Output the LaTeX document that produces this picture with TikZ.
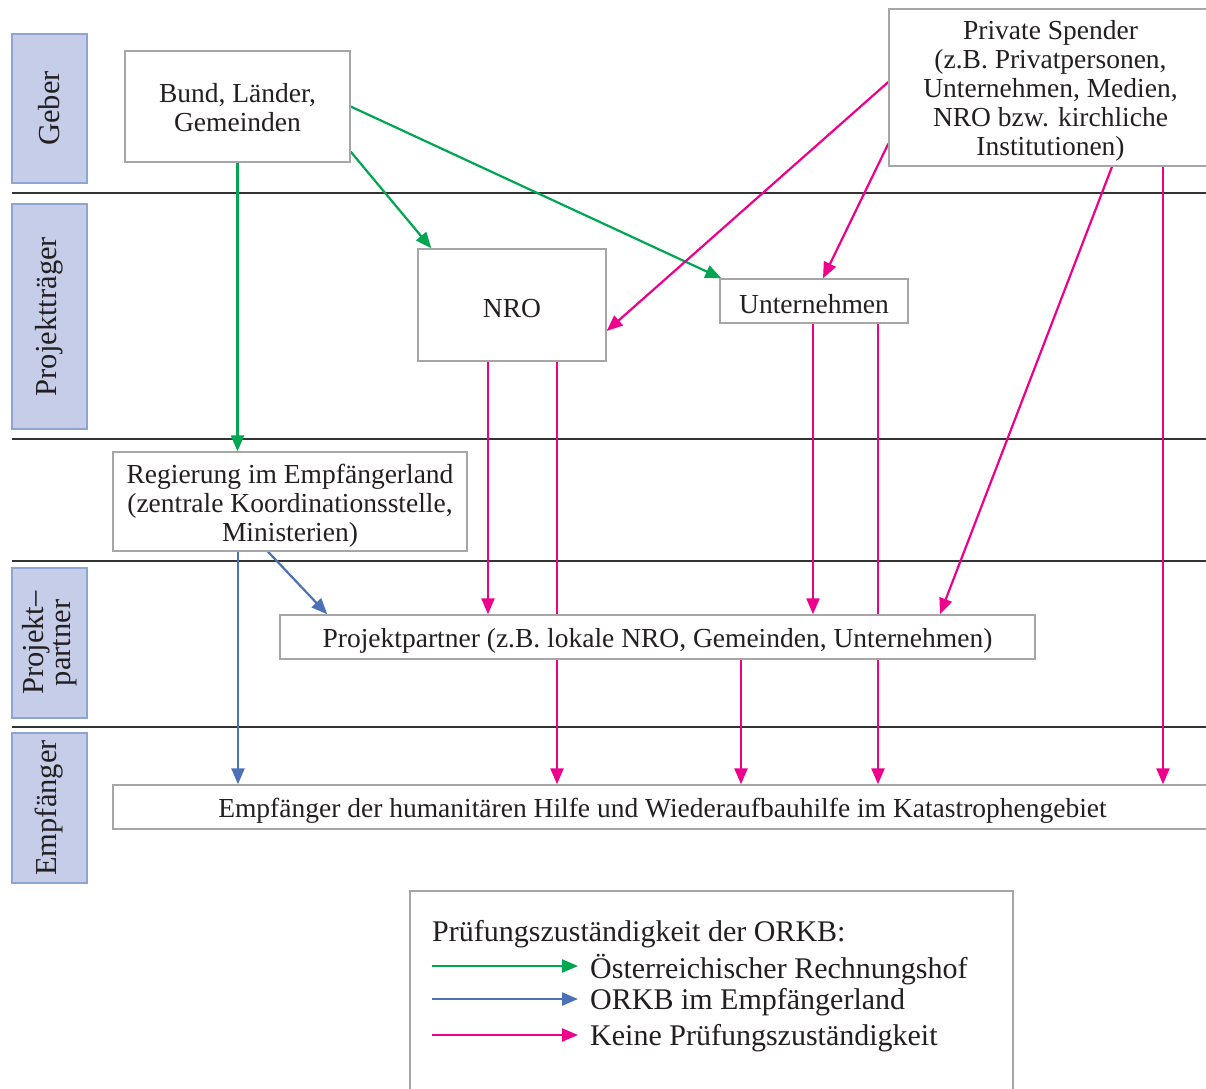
\documentclass[tikz,border=0pt]{standalone}
\usepackage{fontspec}
\setmainfont{Liberation Serif}
\usetikzlibrary{arrows.meta,backgrounds}
\definecolor{cgreen}{HTML}{00A651}
\definecolor{cblue}{HTML}{4C71B6}
\definecolor{cpink}{HTML}{EC008C}
\definecolor{lav}{HTML}{C5CDE8}
\definecolor{lavb}{HTML}{8EA4D2}
\definecolor{boxb}{HTML}{A6A6A6}
\definecolor{txt}{HTML}{231F20}
\definecolor{sep}{HTML}{333333}
\newcommand{\toprule}[1]{\rule{0pt}{#1}}
\tikzset{
  box/.style={draw=boxb, line width=1.4pt, fill=white, inner sep=0pt, align=center, text=txt,
    font=\fontsize{27.5}{29}\selectfont},
  rowlabel/.style={draw=lavb, fill=lav, line width=1.4pt, inner sep=0pt, align=center, text=txt,
    minimum width=75pt},
  rowtext/.style={rotate=90, text=txt, align=center, inner sep=0pt, font=\fontsize{30.5}{27}\selectfont},
  arr/.style={line width=2.2pt, -{Triangle[length=16pt,width=13pt]}},
  ga/.style={arr, draw=cgreen, fill=cgreen},
  ba/.style={arr, draw=cblue, fill=cblue},
  pa/.style={arr, draw=cpink, fill=cpink},
  sepline/.style={draw=sep, line width=1.4pt},
  legtxt/.style={anchor=west, inner sep=0pt, text=txt, font=\fontsize{30}{30}\selectfont}
}
\begin{document}
\begin{tikzpicture}[x=1pt,y=-1pt]
\clip (0,0) rectangle (1206,1088);
% row labels
\node[rowlabel, minimum height=149pt] (lgeb) at (49.5,108.5) {};
\node[rowtext] (tgeb) at (lgeb.center) {Geber};
\node[rowlabel, minimum height=225pt] (lpt) at (49.5,316.5) {};
\node[rowtext] (tpt) at (lpt.center) {Projektträger};
\node[rowlabel, minimum height=150pt] (lpp) at (49.5,643) {};
\node[rowtext] (tpp) at (lpp.center) {Projekt–\\partner};
\node[rowlabel, minimum height=150pt] (lemp) at (49.5,808) {};
\node[rowtext] (temp) at (lemp.center) {Empfänger};
% boxes
\node[box, minimum width=225pt, minimum height=111pt] (bund) at (237.5,106.5) {\toprule{21pt}Bund, Länder,\\Gemeinden};
\node[box, minimum width=323pt, minimum height=157pt] (priv) at (1050.5,87.5) {\toprule{26pt}Private Spender\\(z.B. Privatpersonen,\\Unternehmen, Medien,\\NRO bzw. kirchliche\\Institutionen)};
\node[box, minimum width=188pt, minimum height=112pt] (nro) at (512,305) {\toprule{25pt}NRO};
\node[box, minimum width=188pt, minimum height=44pt] (unt) at (814,301) {\toprule{25pt}Unternehmen};
\node[box, minimum width=354pt, minimum height=99pt] (reg) at (290,501.5) {\toprule{28pt}Regierung im Empfängerland\\(zentrale Koordinationsstelle,\\Ministerien)};
\node[box, minimum width=755pt, minimum height=44pt] (pp) at (657.5,637) {\toprule{27pt}Projektpartner (z.B. lokale NRO, Gemeinden, Unternehmen)};
\node[box, minimum width=1099pt, minimum height=44pt] (emp) at (662.5,807) {\toprule{27pt}Empfänger der humanitären Hilfe und Wiederaufbauhilfe im Katastrophengebiet};
% legend
\node[box, minimum width=603pt, minimum height=204pt] (leg) at (711.5,993) {};
\node[legtxt] (legt) at (432,934) {Prüfungszuständigkeit der ORKB:};
\coordinate (g1) at (432,966); \coordinate (g2) at (578,966);
\coordinate (b1) at (432,999); \coordinate (b2) at (578,999);
\coordinate (p1) at (432,1035); \coordinate (p2) at (578,1035);
\node[legtxt] (lg) at (590,970) {Österreichischer Rechnungshof};
\node[legtxt] (lb) at (590,1002) {ORKB im Empfängerland};
\node[legtxt] (lp) at (590,1038) {Keine Prüfungszuständigkeit};
\draw[ga] (g1) -- (g2);
\draw[ba] (b1) -- (b2);
\draw[pa] (p1) -- (p2);
\begin{scope}[on background layer]
% separators
\coordinate (s1a) at (12,193); \coordinate (s1b) at (1206,193);
\coordinate (s2a) at (12,439); \coordinate (s2b) at (1206,439);
\coordinate (s3a) at (12,561); \coordinate (s3b) at (1206,561);
\coordinate (s4a) at (12,727); \coordinate (s4b) at (1206,727);
\draw[sepline] (s1a) -- (s1b);
\draw[sepline] (s2a) -- (s2b);
\draw[sepline] (s3a) -- (s3b);
\draw[sepline] (s4a) -- (s4b);
% green
\draw[ga] (bund.south) -- (bund.south |- reg.north);
\draw[ga] ([yshift=11pt]bund.south east) -- ([xshift=14pt]nro.north west);
\draw[ga] (bund.east) -- ([xshift=2pt]unt.north west);
% pink
\draw[pa] ([yshift=5.5pt]priv.west) -- ([yshift=-26pt]nro.east);
\draw[pa] ([yshift=23pt]priv.south west) -- ([xshift=9pt]unt.north);
\draw[pa] ([xshift=61.5pt]priv.south) -- ([xshift=282.5pt]pp.north);
\draw[pa] ([xshift=112.5pt]priv.south) -- ([xshift=112.5pt]priv.south |- emp.north);
\draw[pa] ([xshift=-24pt]nro.south) -- ([xshift=-24pt]nro.south |- pp.north);
\draw[pa] ([xshift=45pt]nro.south) -- ([xshift=45pt]nro.south |- emp.north);
\draw[pa] ([xshift=-1pt]unt.south) -- ([xshift=-1pt]unt.south |- pp.north);
\draw[pa] ([xshift=64pt]unt.south) -- ([xshift=64pt]unt.south |- emp.north);
\draw[pa] ([xshift=83.5pt]pp.south) -- ([xshift=83.5pt]pp.south |- emp.north);
% blue
\draw[ba] ([xshift=-52pt]reg.south) -- ([xshift=-52pt]reg.south |- emp.north);
\draw[ba] ([xshift=-22pt]reg.south) -- ([xshift=48pt]pp.north west);
\end{scope}
\end{tikzpicture}
\end{document}
